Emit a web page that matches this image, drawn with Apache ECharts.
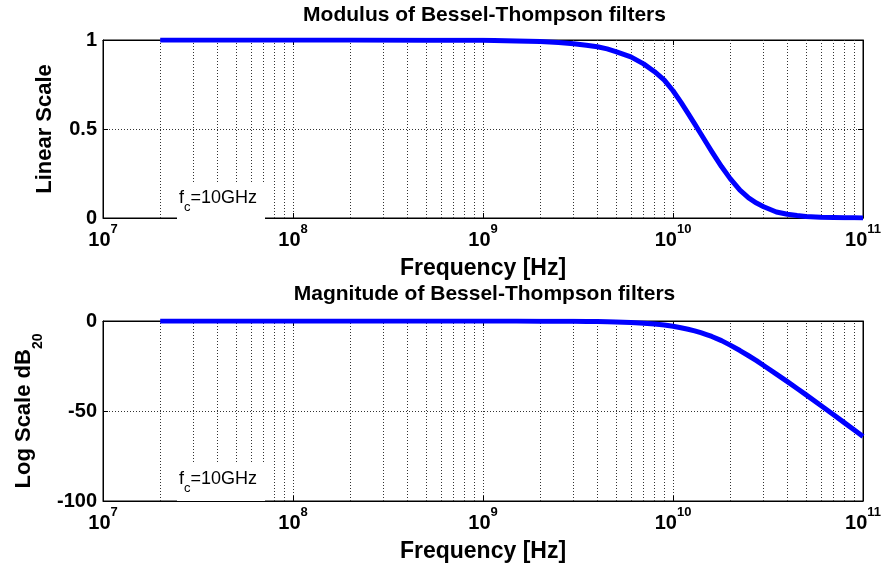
<!DOCTYPE html>
<html>
<head>
<meta charset="utf-8">
<script src="https://cdn.jsdelivr.net/npm/echarts@6/dist/echarts.min.js"></script>
<style>html,body{margin:0;padding:0;background:#fff}#c{width:884px;height:564px}</style>
</head>
<body>
<div id="c"></div>
<script>
// ---- data ----
const freqHz = [2e7, 5e7, 1e8, 2e8, 5e8, 1e9, 1.5e9, 2e9, 2.5e9, 3e9, 3.5e9, 4e9, 4.5e9, 5e9, 6e9, 7e9, 8e9, 9e9,
  1e10, 1.1e10, 1.2e10, 1.3e10, 1.4e10, 1.5e10, 1.6e10, 1.8e10, 2e10, 2.25e10, 2.5e10, 2.75e10, 3e10, 3.5e10,
  4e10, 4.5e10, 5e10, 6e10, 7e10, 8e10, 9e10, 1e11];
const modulusLinear = [1.000, 1.000, 1.000, 1.000, 0.999, 0.998, 0.995, 0.991, 0.986, 0.979, 0.971, 0.962, 0.950, 0.935, 0.905, 0.866, 0.822, 0.775,
  0.715, 0.651, 0.588, 0.529, 0.473, 0.421, 0.373, 0.289, 0.221, 0.156, 0.1125, 0.084, 0.063, 0.034,
  0.021, 0.0135, 0.009, 0.0045, 0.0025, 0.0015, 0.0009, 0.0006];
const magnitudeDb = [0, 0, 0, 0, -0.01, -0.02, -0.04, -0.08, -0.12, -0.18, -0.26, -0.34, -0.45, -0.58, -0.87, -1.25, -1.70, -2.21,
  -2.90, -3.73, -4.60, -5.50, -6.50, -7.55, -8.60, -10.9, -13.4, -16.4, -19.3, -22.0, -24.7, -29.5,
  -33.7, -37.5, -40.9, -46.9, -52.1, -56.6, -60.6, -64.2];
const minorMultipliers = [2, 3, 4, 5, 6, 7, 8, 9];
const minorDecades = [1e7, 1e8, 1e9, 1e10];
const topYTicks = [0, 0.5, 1];
const bottomYTicks = [-100, -50, 0];
const topTitle = 'Modulus of Bessel-Thompson filters';
const bottomTitle = 'Magnitude of Bessel-Thompson filters';
const xName = 'Frequency [Hz]';
const yNameTop = 'Linear Scale';
const yNameBottom = '{m|Log Scale dB}{sub|20}';
const annotation = '{m|f}{sub|c}{m|=10GHz}';

// ---- build ----
const FONT = 'Liberation Sans, Arial, Helvetica, sans-serif';
const minorVals = [];
minorDecades.forEach(d => minorMultipliers.forEach(m => minorVals.push(m * d)));
const topData = freqHz.map((f, i) => [f, modulusLinear[i]]);
const botData = freqHz.map((f, i) => [f, magnitudeDb[i]]);

const gridDot = { type: [1, 2], color: '#333', width: 1 };
const xRich = {
  b: { fontSize: 20, fontWeight: 'bold', fontFamily: FONT, color: '#000', lineHeight: 27, verticalAlign: 'bottom' },
  s: { fontSize: 13, fontWeight: 'bold', fontFamily: FONT, color: '#000', verticalAlign: 'top' }
};
function xAxisMain(gi) {
  return {
    gridIndex: gi, type: 'log', logBase: 10, min: 1e7, max: 1e11, position: 'bottom',
    axisLine: { show: true, onZero: false, lineStyle: { color: '#000', width: 1 } },
    axisTick: { show: true, inside: true, length: 5, lineStyle: { color: '#000' } },
    axisLabel: { margin: 5, formatter: v => '{b|10}{s|' + Math.round(Math.log10(v)) + '}', rich: xRich },
    splitLine: { show: true, lineStyle: gridDot },
    name: xName, nameLocation: 'middle', nameGap: 39,
    nameTextStyle: { fontSize: 23, fontWeight: 'bold', fontFamily: FONT, color: '#000' }
  };
}
function xAxisTop(gi) {
  return {
    gridIndex: gi, type: 'log', logBase: 10, min: 1e7, max: 1e11, position: 'top',
    axisLine: { show: true, onZero: false, lineStyle: { color: '#000', width: 1 } },
    axisTick: { show: true, inside: true, length: 5, lineStyle: { color: '#000' } },
    axisLabel: { show: false }, splitLine: { show: false }
  };
}
function yAxisMain(gi, mn, mx, iv, name, gap, rich) {
  return {
    gridIndex: gi, type: 'value', min: mn, max: mx, interval: iv, position: 'left',
    axisLine: { show: true, onZero: false, lineStyle: { color: '#000', width: 1 } },
    axisTick: { show: true, inside: true, length: 5, lineStyle: { color: '#000' } },
    axisLabel: { margin: 6, fontSize: 20, fontWeight: 'bold', fontFamily: FONT, color: '#000' },
    splitLine: { show: true, lineStyle: gridDot },
    name: name, nameLocation: 'middle', nameGap: gap, nameRotate: 90,
    nameTextStyle: { fontSize: 22, fontWeight: 'bold', fontFamily: FONT, color: '#000', rich: rich }
  };
}
function yAxisRight(gi, mn, mx, iv) {
  return {
    gridIndex: gi, type: 'value', min: mn, max: mx, interval: iv, position: 'right',
    axisLine: { show: true, onZero: false, lineStyle: { color: '#000', width: 1 } },
    axisTick: { show: true, inside: true, length: 5, lineStyle: { color: '#000' } },
    axisLabel: { show: false }, splitLine: { show: false }
  };
}
function gridLines(xi, yi) {
  return {
    type: 'line', xAxisIndex: xi, yAxisIndex: yi, data: [], z: 1, silent: true,
    markLine: { symbol: 'none', silent: true, label: { show: false }, lineStyle: gridDot,
      animation: false, data: minorVals.map(v => ({ xAxis: v })) }
  };
}
function curve(xi, yi, data) {
  return {
    type: 'line', xAxisIndex: xi, yAxisIndex: yi, data: data, showSymbol: false, z: 5,
    smooth: false,
    lineStyle: { color: '#0000ff', width: 5, join: 'round', cap: 'butt' }, itemStyle: { color: '#0000ff' }
  };
}
const subRich = {
  m: { fontSize: 22, fontWeight: 'bold', fontFamily: FONT, color: '#000', lineHeight: 32, verticalAlign: 'top' },
  sub: { fontSize: 14, fontWeight: 'bold', fontFamily: FONT, color: '#000', verticalAlign: 'bottom' }
};
function annot(top) {
  return [
    { type: 'rect', z: 100, shape: { x: 177, y: top, width: 88, height: 38 }, style: { fill: '#fff' } },
    { type: 'text', z: 101, x: 179, y: top + 7, style: {
      text: annotation, fill: '#000',
      rich: {
        m: { fontSize: 18, fontFamily: FONT, fill: '#000', lineHeight: 25, verticalAlign: 'top' },
        sub: { fontSize: 13, fontFamily: FONT, fill: '#000', verticalAlign: 'bottom' }
      } } }
  ];
}

const chart = echarts.init(document.getElementById('c'), null, { renderer: 'canvas' });
chart.setOption({
  animation: false,
  backgroundColor: '#fff',
  title: [
    { text: topTitle, left: 484.5, top: 5, textAlign: 'center', padding: 0,
      textStyle: { fontSize: 21, fontWeight: 'bold', fontFamily: FONT, color: '#000' } },
    { text: bottomTitle, left: 484.5, top: 284, textAlign: 'center', padding: 0,
      textStyle: { fontSize: 21, fontWeight: 'bold', fontFamily: FONT, color: '#000' } }
  ],
  grid: [
    { left: 103, top: 40, width: 763, height: 178, show: true, borderColor: '#000', borderWidth: 1, backgroundColor: 'transparent' },
    { left: 103, top: 321, width: 763, height: 180, show: true, borderColor: '#000', borderWidth: 1, backgroundColor: 'transparent' }
  ],
  xAxis: [xAxisMain(0), xAxisTop(0), xAxisMain(1), xAxisTop(1)],
  yAxis: [
    yAxisMain(0, topYTicks[0], topYTicks[2], topYTicks[1] - topYTicks[0], yNameTop, 47, null),
    yAxisRight(0, topYTicks[0], topYTicks[2], topYTicks[1] - topYTicks[0]),
    yAxisMain(1, bottomYTicks[0], bottomYTicks[2], bottomYTicks[1] - bottomYTicks[0], yNameBottom, 58, subRich),
    yAxisRight(1, bottomYTicks[0], bottomYTicks[2], bottomYTicks[1] - bottomYTicks[0])
  ],
  series: [
    gridLines(0, 0), gridLines(2, 2),
    curve(0, 0, topData), curve(2, 2, botData)
  ],
  graphic: [].concat(annot(182), annot(463))
});
</script>
</body>
</html>
